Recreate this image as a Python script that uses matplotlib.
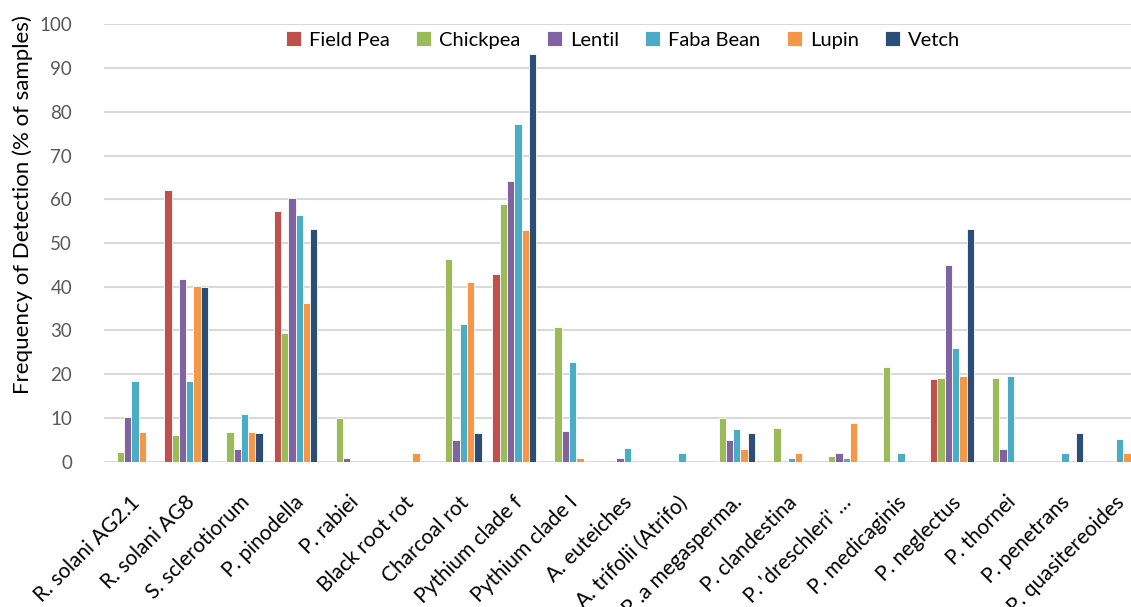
import matplotlib.pyplot as plt
import matplotlib.transforms as mtransforms
import numpy as np

# Pathogen categories on the x axis
pathogens = ['R. solani AG2.1', 'R. solani AG8', 'S. sclerotiorum', 'P. pinodella',
             'P. rabiei', 'Black root rot', 'Charcoal rot', 'Pythium clade f',
             'Pythium clade I', 'A. euteiches', 'A. trifolii (Atrifo)', 'P .a megasperma.',
             'P. clandestina', "P. 'dreschleri' \u2026", 'P. medicaginis', 'P. neglectus',
             'P. thornei', 'P. penetrans', 'P. quasitereoides']

# Frequency of detection (% of samples) per crop
field_pea = [0, 62, 0, 57.2, 0, 0, 0, 42.8, 0, 0, 0, 0, 0, 0, 0, 19, 0, 0, 0]
chickpea = [2.3, 6.2, 6.9, 29.4, 10, 0, 46.4, 58.8, 30.9, 0, 0, 10, 7.6, 1.4, 21.6, 19.2, 19.2, 0, 0]
lentil = [10.2, 41.8, 3, 60.2, 0.9, 0, 5, 64.2, 7, 0.9, 0, 5, 0, 1.9, 0, 45, 2.9, 0, 0]
faba_bean = [18.5, 18.5, 10.8, 56.4, 0, 0, 31.5, 77.2, 22.7, 3.2, 2, 7.5, 0.9, 0.9, 2, 26, 19.5, 2, 5.3]
lupin = [6.9, 40.2, 6.8, 36.2, 0, 1.9, 41.1, 52.9, 0.8, 0, 0, 2.8, 1.9, 8.8, 0, 19.6, 0, 0, 1.9]
vetch = [0, 40, 6.6, 53.3, 0, 0, 6.6, 93.3, 0, 0, 0, 6.6, 0, 0, 0, 53.3, 0, 6.6, 0]

series = [('Field Pea', field_pea, '#C0504D'),
          ('Chickpea', chickpea, '#9BBB59'),
          ('Lentil', lentil, '#8064A2'),
          ('Faba Bean', faba_bean, '#4BACC6'),
          ('Lupin', lupin, '#F79646'),
          ('Vetch', vetch, '#2C4D75')]

plt.rcParams['font.family'] = ['Lato', 'DejaVu Sans']

fig = plt.figure(figsize=(11.31, 6.07), dpi=100)
# the original chart is cropped on the right, so the axes run past the figure edge
ax = fig.add_axes([0.092, 0.2394, 0.919, 0.7206])

x = np.arange(len(pathogens))
slot = 0.1335
for i, (name, vals, col) in enumerate(series):
    ax.bar(x + (i - 2.5) * slot, vals, width=slot, color=col, label=name,
           edgecolor='white', linewidth=0.6, zorder=3)

ax.set_xlim(-0.5, len(pathogens) - 0.5)
ax.set_ylim(0, 100)
ax.set_yticks(np.arange(0, 101, 10))
ax.yaxis.grid(True, color='#D9D9D9', linewidth=1.5, zorder=0)
for s in ax.spines.values():
    s.set_visible(False)
ax.tick_params(axis='both', length=0)
ax.tick_params(axis='y', labelsize=13.5, labelcolor='#595959', pad=23)

ax.set_xticks(x)
ax.set_xticklabels(pathogens, rotation=45, ha='right', va='top',
                   rotation_mode='anchor', fontsize=15)
ax.tick_params(axis='x', pad=22)
# small horizontal nudge of the rotated labels
shift = mtransforms.ScaledTranslation(-1 / 72, 0, fig.dpi_scale_trans)
for lab in ax.get_xticklabels():
    lab.set_transform(lab.get_transform() + shift)

fig.text(23 / 1131, 1 - 205 / 607, 'Frequency of Detection (% of samples)',
         rotation=90, ha='center', va='center', fontsize=16)

fig.legend(loc='center', bbox_to_anchor=(0.551, 0.934), ncol=6, frameon=False,
           fontsize=14.5, handlelength=0.75, handleheight=0.75, handletextpad=0.4,
           columnspacing=1.3)

fig.savefig('out.png', dpi=100)
